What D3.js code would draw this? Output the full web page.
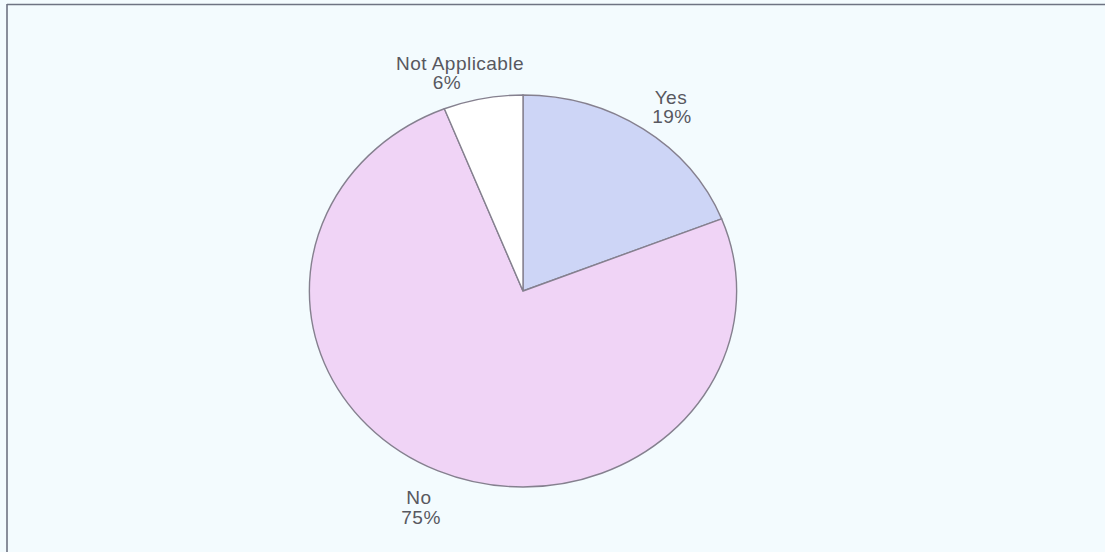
<!DOCTYPE html>
<html>
<head>
<meta charset="utf-8">
<script src="https://cdn.jsdelivr.net/npm/d3@7"></script>
<style>
  html, body { margin: 0; padding: 0; background: #f3fbfe; }
  svg { display: block; }
</style>
</head>
<body>
<svg id="chart" width="1105" height="552"></svg>
<script>
// Survey responses (percent of respondents)
const categories = ["Yes", "No", "Not Applicable"];
const values = [19, 75, 6];
const sliceColors = ["#cdd5f6", "#f0d4f6", "#ffffff"];

const W = 1105, H = 552;
const svg = d3.select("#chart");

// frame
svg.append("rect").attr("width", W).attr("height", H).attr("fill", "#f3fbfe");
svg.append("line").attr("x1", 7).attr("x2", W).attr("y1", 4.5).attr("y2", 4.5)
  .attr("stroke", "#6e7382").attr("stroke-width", 1.6);
svg.append("line").attr("x1", 7).attr("x2", 7).attr("y1", 4).attr("y2", H)
  .attr("stroke", "#6e7382").attr("stroke-width", 1.6);

const cx = 523, cy = 291, r = 196, sx = 1.09;
const g = svg.append("g").attr("transform", `translate(${cx},${cy}) scale(${sx},1)`);

const data = categories.map((c, i) => ({ label: c, value: values[i], color: sliceColors[i] }));
const pie = d3.pie().value(d => d.value).sort(null);
const arc = d3.arc().innerRadius(0).outerRadius(r);
const arcs = pie(data);

g.selectAll("path.slice").data(arcs).join("path")
  .attr("class", "slice")
  .attr("d", arc)
  .attr("fill", d => d.data.color)
  .attr("stroke", "#85808f")
  .attr("stroke-width", 1.4)
  .attr("vector-effect", "non-scaling-stroke");

// labels sit just outside the rim, with small per-label adjustments
const labelArc = d3.arc().innerRadius(r * 1.15).outerRadius(r * 1.15);
const nudge = { "Yes": [9, 1.5], "No": [-6, 9], "Not Applicable": [-15.5, 2.5] };
const pctShift = { "Yes": 1, "No": 2, "Not Applicable": -12 };

const labels = g.selectAll("g.lbl").data(arcs).join("g")
  .attr("class", "lbl")
  .attr("transform", d => {
    const [x, y] = labelArc.centroid(d);
    const n = nudge[d.data.label];
    return `translate(${x + n[0]},${y + n[1]})`;
  });

const fontSize = 17.5, lineGap = 19.5;
labels.each(function(d) {
  const sel = d3.select(this);
  const common = t => t
    .attr("text-anchor", "middle")
    .attr("font-family", "'Liberation Sans', Arial, sans-serif")
    .attr("font-size", fontSize)
    .attr("letter-spacing", 0.4)
    .attr("fill", "#58585f");
  sel.append("text").call(common)
    .attr("x", 0).attr("y", -2.5)
    .text(d.data.label);
  sel.append("text").call(common)
    .attr("x", pctShift[d.data.label]).attr("y", -2.5 + lineGap)
    .text(d.data.value + "%");
});
</script>
</body>
</html>
